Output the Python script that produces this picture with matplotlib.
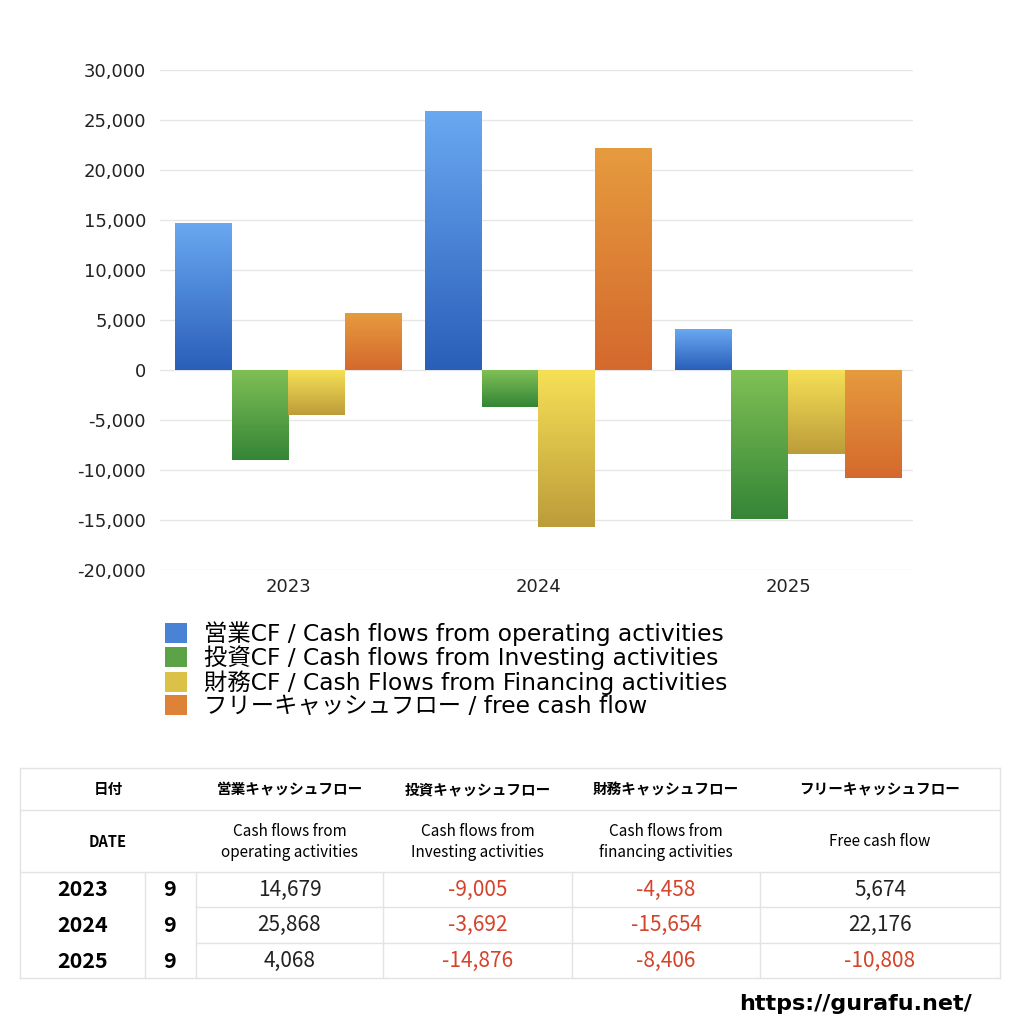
import numpy as np
import matplotlib
matplotlib.use('Agg')
import matplotlib.pyplot as plt
from matplotlib.colors import LinearSegmentedColormap
from matplotlib.patches import Patch

plt.rcParams['font.family'] = ['Noto Sans CJK JP', 'DejaVu Sans']
WIDE = ['DejaVu Sans', 'Noto Sans CJK JP']

years = ['2023', '2024', '2025']
months = ['9', '9', '9']
operating = [14679, 25868, 4068]
investing = [-9005, -3692, -14876]
financing = [-4458, -15654, -8406]
free_cf = [5674, 22176, -10808]

labels = ['営業CF / Cash flows from operating activities',
          '投資CF / Cash flows from Investing activities',
          '財務CF / Cash Flows from Financing activities',
          'フリーキャッシュフロー / free cash flow']
head_jp = ['営業キャッシュフロー', '投資キャッシュフロー', '財務キャッシュフロー', 'フリーキャッシュフロー']
head_en = ['Cash flows from\noperating activities', 'Cash flows from\nInvesting activities',
           'Cash flows from\nfinancing activities', 'Free cash flow']

# (top, bottom) colours of each gradient
grads = [('#6aa8f2', '#2a5fb9'),
         ('#80c056', '#348536'),
         ('#f6e056', '#bc9c3a'),
         ('#e69b3e', '#d4692d')]
mids = ['#4a82d6', '#5ba346', '#dcc148', '#dd8236']

series = [operating, investing, financing, free_cf]

fig = plt.figure(figsize=(10.24, 10.24), dpi=100)
ax = fig.add_axes([160 / 1024, 1 - 570 / 1024, 753 / 1024, 500 / 1024])

x = np.arange(len(years))
w = 0.227
grad = np.linspace(0, 1, 256).reshape(-1, 1)
for i, (vals, (top, bot)) in enumerate(zip(series, grads)):
    cmap = LinearSegmentedColormap.from_list('g%d' % i, [bot, top])
    bars = ax.bar(x + (i - 1.5) * w, vals, w, color=top, zorder=2, linewidth=0)
    for b in bars:
        x0, y0 = b.get_x(), b.get_y()
        y1 = y0 + b.get_height()
        im = ax.imshow(grad, cmap=cmap, origin='lower', aspect='auto',
                       extent=(x0, x0 + b.get_width(), min(y0, y1), max(y0, y1)), zorder=3)
        im.set_clip_path(b)

ax.set_xlim(-0.514, 2.5)
ax.set_ylim(-20000, 30000)
ax.set_yticks(range(-20000, 30001, 5000))
ax.yaxis.set_major_formatter(lambda v, _: '{:,}'.format(int(v)))
ax.set_xticks(x)
ax.set_xticklabels(years)
ax.tick_params(length=0, labelsize=13, colors='#222222', pad=10)
ax.tick_params(axis='x', pad=6)
for t in ax.get_xticklabels() + ax.get_yticklabels():
    t.set_family(WIDE)
ax.grid(axis='y', color='#e6e6e6', linewidth=1, zorder=0)
for s in ax.spines.values():
    s.set_visible(False)

handles = [Patch(color=c, linewidth=0) for c in mids]
fig.legend(handles, labels, loc='upper left', bbox_to_anchor=(165 / 1024, 1 - 621 / 1024),
           frameon=False, prop={'family': WIDE, 'size': 16.8}, handlelength=0.95, handleheight=0.95,
           labelspacing=0.0, handletextpad=0.7, borderpad=0, borderaxespad=0)

# table drawn on an overlay in pixel coordinates
tb = fig.add_axes([0, 0, 1, 1])
tb.set_xlim(0, 1024)
tb.set_ylim(1024, 0)
tb.axis('off')
lc = '#e3e3e3'
L, R = 20, 1000
cols = [196, 383, 572, 760, 1000]
for y in [768, 810, 872, 978]:
    tb.plot([L, R], [y, y], color=lc, lw=1)
for y in [907, 943]:
    tb.plot([196, R], [y, y], color=lc, lw=1)
tb.plot([L, L], [768, 978], color=lc, lw=1)
tb.plot([R, R], [768, 978], color=lc, lw=1)
for xv in [145] + cols[:-1]:
    tb.plot([xv, xv], [872, 978], color=lc, lw=1)

tb.text(108, 789, '日付', ha='center', va='center', fontsize=10.5, fontweight='bold')
tb.text(108, 842, 'DATE', ha='center', va='center', fontsize=10.5, fontweight='bold')
centers = [(cols[k] + cols[k + 1]) / 2 for k in range(4)]
for k in range(4):
    tb.text(centers[k], 789, head_jp[k], ha='center', va='center', fontsize=10.5, fontweight='bold')
    tb.text(centers[k], 842, head_en[k], ha='center', va='center', fontsize=11,
            linespacing=1.3)

row_y = [890, 925, 961]
for r in range(3):
    tb.text(83, row_y[r], years[r], ha='center', va='center', fontsize=15.5, fontweight='bold')
    tb.text(170, row_y[r], months[r], ha='center', va='center', fontsize=15.5, fontweight='bold')
    for k in range(4):
        v = series[k][r]
        tb.text(centers[k], row_y[r], '{:,}'.format(v), ha='center', va='center', fontsize=15,
                color='#d5432b' if v < 0 else '#222222')

tb.text(972, 1004, 'https://gurafu.net/', ha='right', va='center', fontsize=16,
        fontweight='bold', family=WIDE)

fig.savefig('out.png', dpi=100)
